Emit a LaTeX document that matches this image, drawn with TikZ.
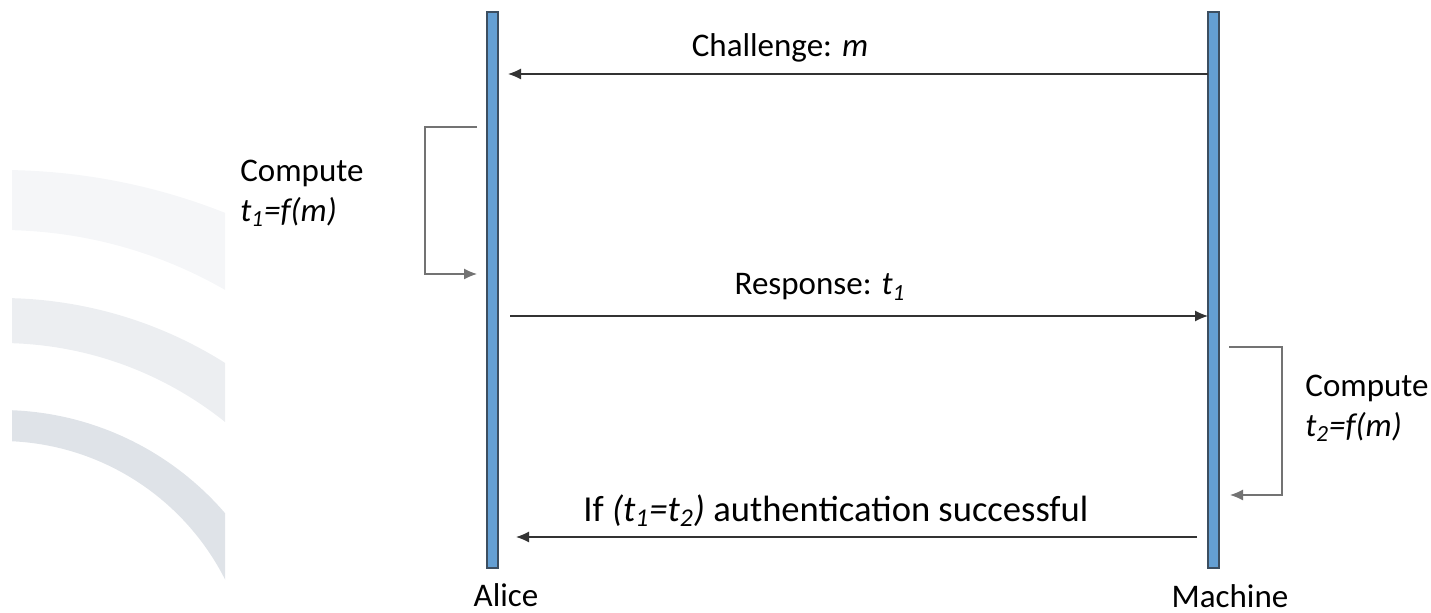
\documentclass[tikz,border=0pt]{standalone}
\usepackage{fontspec}
\setmainfont{Carlito}
\usetikzlibrary{arrows.meta}
\definecolor{barblue}{HTML}{649FD3}
\definecolor{baredge}{HTML}{3C4E60}
\definecolor{arcA}{HTML}{F5F6F8}
\definecolor{arcB}{HTML}{ECEEF1}
\definecolor{arcC}{HTML}{DFE3E8}
\tikzset{
  lifeline/.style={draw=baredge, fill=barblue, line width=0.6pt, minimum width=5.5pt, minimum height=278pt, inner sep=0pt},
  msg/.style={-{Latex[length=6.5pt,width=5.5pt]}, line width=0.6pt, draw=black!80},
  loopback/.style={msg, draw=black!55},
  lbl/.style={font=\fontsize{16.5}{20}\selectfont, inner sep=0pt},
}
\begin{document}
\begin{tikzpicture}[x=0.5pt, y=-0.5pt]
  \useasboundingbox (0,0) rectangle (1431,613);
  % Background arcs
  \begin{scope}
    \clip (12,0) rectangle (225,613);
    \fill[arcA, even odd rule] (0,780) circle (610) (0,682) circle (452);
    \fill[arcB, even odd rule] (0,720) circle (422) (0,703) circle (360);
    \fill[arcC, even odd rule] (0,707) circle (297) (0,693) circle (252);
  \end{scope}
  % Lifelines
  \node[lifeline] (alice) at (492.5,290) {};
  \node[lifeline] (machine) at (1213.5,290) {};
  \node[lbl, anchor=base] (alicename) at (506,607) {Alice};
  \node[lbl] (machinename) at (1230,596) {Machine};
  % Challenge
  \coordinate (ch1) at (1208,74);
  \coordinate (ch2) at (508,74);
  \draw[msg] (ch1) -- (ch2);
  \node[lbl] (chlabel) at (780,48) {Challenge: \textit{m}};
  % Compute on Alice's side
  \coordinate (ca1) at (477,127);
  \coordinate (ca2) at (477,274);
  \draw[loopback] (ca1) -- ++(-52,0) |- (ca2);
  \node[lbl, anchor=west, align=left] (calabel) at (240,193) {Compute\\\textit{t\textsubscript{1}=f(m)}};
  % Response
  \coordinate (re1) at (510,316);
  \coordinate (re2) at (1208,316);
  \draw[msg] (re1) -- (re2);
  \node[lbl] (relabel) at (820,287) {Response: \textit{t\textsubscript{1}}};
  % Compute on Machine's side
  \coordinate (cm1) at (1229,347);
  \coordinate (cm2) at (1230,495);
  \draw[loopback] (cm1) -- ++(53,0) |- (cm2);
  \node[lbl, anchor=west, align=left] (cmlabel) at (1305,408) {Compute\\\textit{t\textsubscript{2}=f(m)}};
  % Result
  \coordinate (ok1) at (1197,537);
  \coordinate (ok2) at (516,537);
  \draw[msg] (ok1) -- (ok2);
  \node[lbl, font=\fontsize{18.3}{22}\selectfont, anchor=west] (oklabel) at (583,511) {If \textit{(t\textsubscript{1}=t\textsubscript{2})} authentication successful};
\end{tikzpicture}
\end{document}
